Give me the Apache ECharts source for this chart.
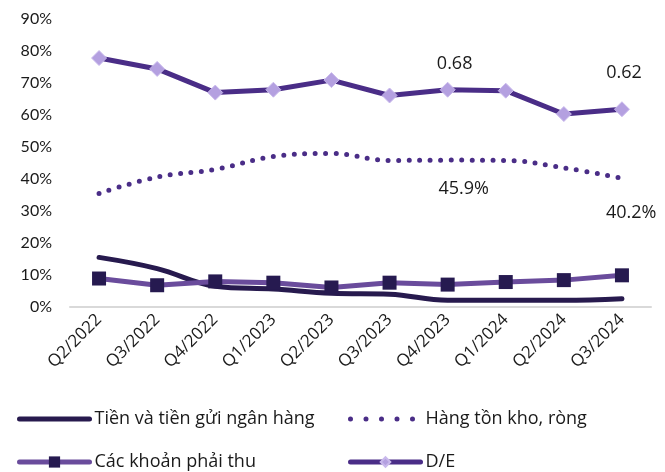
<!DOCTYPE html>
<html lang="vi">
<head>
    <meta charset="UTF-8">
    <title>Cơ cấu tài sản và D/E</title>
    <script src="https://cdn.jsdelivr.net/npm/echarts@6/dist/echarts.min.js"></script>
</head>
<body style="margin:0;background:#fff;">
<div id="chart" style="width: 665px;height:472px;"></div>
<script>
    // du lieu doc tu hinh (%)
    var quarters = ['Q2/2022', 'Q3/2022', 'Q4/2022', 'Q1/2023', 'Q2/2023', 'Q3/2023', 'Q4/2023', 'Q1/2024', 'Q2/2024', 'Q3/2024'];
    var cash = [15.5, 12.0, 6.5, 5.6, 4.3, 4.0, 2.1, 2.1, 2.1, 2.6];
    var inventory = [35.5, 40.6, 43.0, 47.0, 48.0, 45.8, 45.9, 45.8, 43.5, 40.2];
    var receivables = [8.9, 6.8, 8.0, 7.6, 6.1, 7.6, 7.0, 7.8, 8.4, 9.9];
    var debtEquity = [77.8, 74.4, 67.0, 67.9, 70.9, 66.1, 67.9, 67.6, 60.3, 61.8];
    var yTicks = [0, 10, 20, 30, 40, 50, 60, 70, 80, 90];

    var names = ['Tiền và tiền gửi ngân hàng', 'Hàng tồn kho, ròng', 'Các khoản phải thu', 'D/E'];
    var labelFont = {fontFamily: 'Open Sans', fontSize: 18, color: '#1a1a1a'};

    // gan nhan cho vai diem cu the
    function withLabels(values, labels) {
        return values.map(function (v, i) {
            if (!labels[i]) return v;
            return {value: v, label: Object.assign({show: true}, labelFont, labels[i])};
        });
    }

    function legendAt(name, left, top, extra) {
        return Object.assign({
            data: [name], left: left, top: top, padding: 0,
            itemWidth: 70, itemHeight: 14, itemGap: 0,
            lineStyle: {width: 5, cap: 'round'},
            textStyle: {fontFamily: 'Open Sans', fontSize: 18, color: '#1a1a1a'}
        }, extra || {});
    }

    var myChart = echarts.init(document.getElementById('chart'));
    myChart.setOption({
        animation: false,
        grid: {left: 70, right: 14, top: 19, bottom: 165},
        legend: [
            legendAt(names[0], 17, 410, {itemStyle: {opacity: 0}}),
            legendAt(names[1], 348, 410, {itemStyle: {opacity: 0}, lineStyle: {width: 5, type: [0, 15.5], cap: 'round'}}),
            legendAt(names[2], 17, 453),
            legendAt(names[3], 348, 453, {itemHeight: 12})
        ],
        xAxis: {
            type: 'category',
            data: quarters,
            axisLine: {lineStyle: {color: '#d9d9d9', width: 2}},
            axisTick: {show: false},
            axisLabel: {rotate: 45, margin: 10, fontFamily: 'Open Sans', fontSize: 17, color: '#1a1a1a', interval: 0}
        },
        yAxis: {
            type: 'value',
            min: yTicks[0], max: yTicks[yTicks.length - 1], interval: 10,
            splitLine: {show: false},
            axisLine: {show: false},
            axisTick: {show: false},
            axisLabel: {formatter: '{value}%', margin: 18, fontFamily: 'Lato', fontSize: 16, color: '#1a1a1a'}
        },
        series: [
            {
                name: names[0], type: 'line', data: cash,
                smooth: 0.4, symbol: 'none',
                lineStyle: {color: '#271a4e', width: 5, cap: 'round'},
                itemStyle: {color: '#271a4e'}
            },
            {
                name: names[1], type: 'line',
                data: withLabels(inventory, {
                    6: {position: 'bottom', distance: 0, offset: [16, 20], formatter: '45.9%'},
                    9: {position: 'bottom', distance: 0, offset: [-16, 26], formatter: '40.2%', align: 'left'}
                }),
                smooth: 0.4, symbol: 'circle', symbolSize: 0, showAllSymbol: true,
                lineStyle: {color: '#4a2d87', width: 5, type: [0, 10.5], cap: 'round'},
                itemStyle: {color: '#4a2d87'}
            },
            {
                name: names[2], type: 'line', data: receivables,
                symbol: 'rect', symbolSize: 14, showAllSymbol: true,
                lineStyle: {color: '#6a4c9c', width: 5},
                itemStyle: {color: '#261a50'}
            },
            {
                name: names[3], type: 'line',
                data: withLabels(debtEquity, {
                    6: {position: 'top', distance: 0, offset: [7, -9], formatter: '0.68'},
                    9: {position: 'top', distance: 0, offset: [2, -19], formatter: '0.62'}
                }),
                symbol: 'diamond', symbolSize: 15, showAllSymbol: true,
                lineStyle: {color: '#4a2d87', width: 5},
                itemStyle: {color: '#b4a0e0', borderColor: '#c9b9ec', borderWidth: 1}
            }
        ]
    });
</script>
</body>
</html>
